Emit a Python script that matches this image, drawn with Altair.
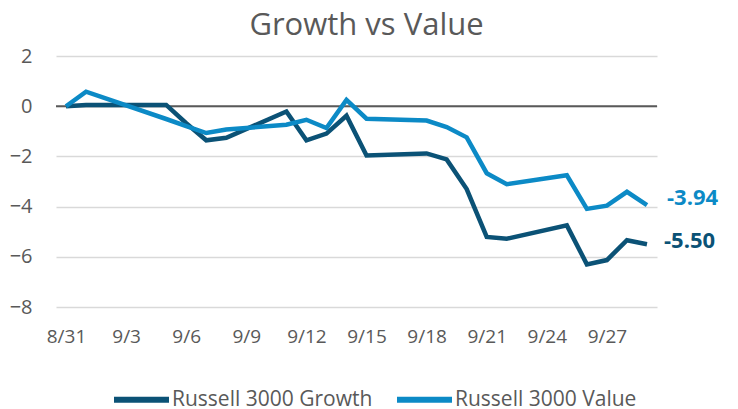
import altair as alt
import pandas as pd

# ---- data ----
dates = ["2023-08-31", "2023-09-01", "2023-09-05", "2023-09-06", "2023-09-07",
         "2023-09-08", "2023-09-11", "2023-09-12", "2023-09-13", "2023-09-14",
         "2023-09-15", "2023-09-18", "2023-09-19", "2023-09-20", "2023-09-21",
         "2023-09-22", "2023-09-25", "2023-09-26", "2023-09-27", "2023-09-28",
         "2023-09-29"]
growth = [0.00, 0.05, 0.05, -0.68, -1.36, -1.26, -0.21, -1.36, -1.09, -0.38,
          -1.96, -1.88, -2.12, -3.30, -5.21, -5.28, -4.75, -6.30, -6.13, -5.34,
          -5.50]
value = [0.00, 0.58, -0.51, -0.79, -1.07, -0.93, -0.74, -0.54, -0.87, 0.25,
         -0.50, -0.57, -0.83, -1.24, -2.67, -3.11, -2.75, -4.09, -3.96, -3.41,
         -3.94]
series_names = ["Russell 3000 Growth", "Russell 3000 Value"]
series_colors = ["#0b5276", "#0c8ac6"]
y_ticks = [-8, -6, -4, -2, 0, 2]
x_tick_dates = ["2023-08-31", "2023-09-03", "2023-09-06", "2023-09-09", "2023-09-12",
                "2023-09-15", "2023-09-18", "2023-09-21", "2023-09-24", "2023-09-27"]

FONT = "Open Sans"
GRAY = "#595959"

rows = []
for d, g, v in zip(dates, growth, value):
    rows.append({"date": d, "series": series_names[0], "val": g})
    rows.append({"date": d, "series": series_names[1], "val": v})
df = pd.DataFrame(rows)


def dt(s, hours=0):
    y, m, d = (int(p) for p in s.split("-"))
    return alt.DateTime(year=y, month=m, date=d, hours=hours, utc=True)


x_scale = alt.Scale(type="utc", domain=[dt("2023-08-30", 12), dt("2023-09-29", 12)])
y_scale = alt.Scale(domain=[-8, 2])
color_scale = alt.Scale(domain=series_names, range=series_colors)

x_enc = alt.X("date:T", scale=x_scale, title=None,
              axis=alt.Axis(values=[dt(s) for s in x_tick_dates],
                            labelExpr="utcFormat(datum.value, '%-m/%-d')",
                            domain=False, ticks=False, grid=False,
                            labelFont=FONT, labelFontSize=19, labelColor=GRAY,
                            labelPadding=20))
y_enc = alt.Y("val:Q", scale=y_scale, title=None,
              axis=alt.Axis(values=y_ticks, domain=False, ticks=False,
                            grid=True, gridColor="#d9d9d9", gridWidth=1.5,
                            labelFont=FONT, labelFontSize=20, labelColor=GRAY,
                            labelPadding=24))

lines = alt.Chart(df).mark_line(strokeWidth=4.5, strokeJoin="miter").encode(
    x=x_enc,
    y=y_enc,
    color=alt.Color("series:N", scale=color_scale, title=None,
                    sort=series_names,
                    legend=alt.Legend(orient="none", direction="horizontal",
                                      legendX=55, legendY=313,
                                      symbolType="stroke", symbolSize=3025,
                                      symbolStrokeWidth=6, labelOffset=0,
                                      columnPadding=12, padding=0,
                                      labelFont=FONT, labelFontSize=21,
                                      labelColor=GRAY, labelLimit=400)),
    order=alt.Order("series:N"),
)

zero = alt.Chart(pd.DataFrame({"z": [0]})).mark_rule(color=GRAY, strokeWidth=2).encode(
    y=alt.Y("z:Q", scale=y_scale)
)

last_g = pd.DataFrame({"date": [dates[-1]], "val": [growth[-1]],
                       "lab": [f"{growth[-1]:.2f}"]})
last_v = pd.DataFrame({"date": [dates[-1]], "val": [value[-1]],
                       "lab": [f"{value[-1]:.2f}"]})

lab_g = alt.Chart(last_g).mark_text(align="left", baseline="middle", dx=17, dy=-3,
                                    font=FONT, fontSize=22, fontWeight="bold",
                                    color=series_colors[0]).encode(
    x=alt.X("date:T", scale=x_scale), y=alt.Y("val:Q", scale=y_scale), text="lab:N")
lab_v = alt.Chart(last_v).mark_text(align="left", baseline="middle", dx=20, dy=-7,
                                    font=FONT, fontSize=22, fontWeight="bold",
                                    color=series_colors[1]).encode(
    x=alt.X("date:T", scale=x_scale), y=alt.Y("val:Q", scale=y_scale), text="lab:N")

chart = alt.layer(zero, lines, lab_g, lab_v).properties(
    width=601, height=251,
    autosize=alt.AutoSizeParams(type="none"),
    padding={"left": 48, "top": 48, "right": 73, "bottom": 102},
    title=alt.TitleParams("Growth vs Value", font=FONT, fontSize=31,
                          fontWeight="normal", color=GRAY, anchor="middle",
                          baseline="top", offset=0, dx=10, dy=-4),
).configure_view(stroke=None)

chart.save("out.html", embed_options={"renderer": "svg", "actions": False})
